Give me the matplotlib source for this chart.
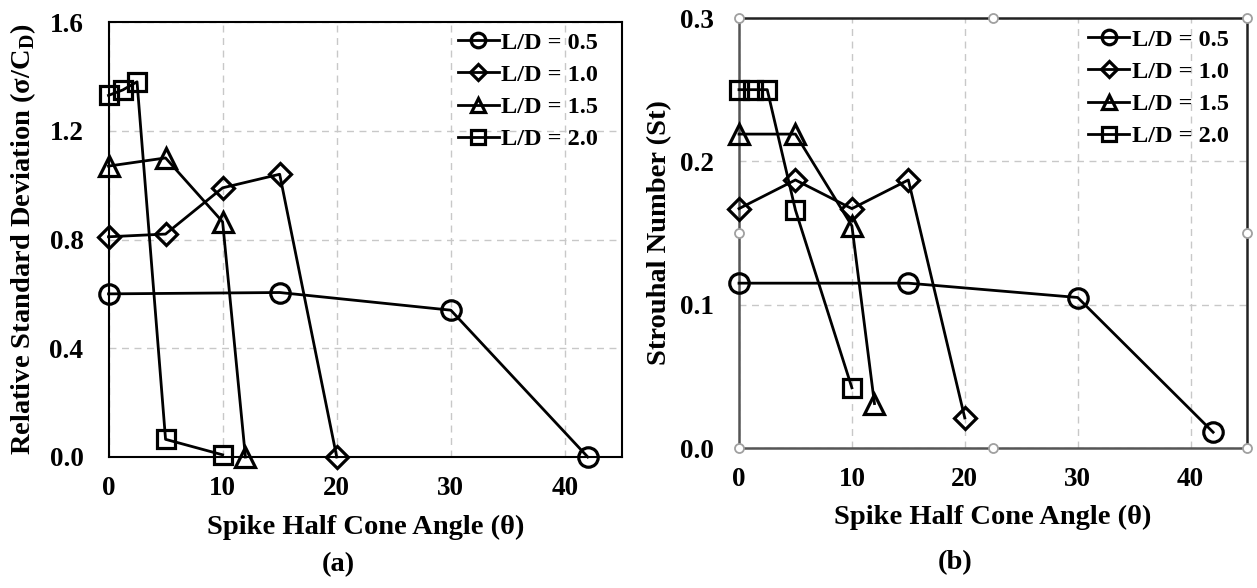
import numpy as np
import matplotlib
matplotlib.use("Agg")
import matplotlib.pyplot as plt

plt.rcParams["font.family"] = ["Liberation Serif", "DejaVu Serif"]
plt.rcParams["font.weight"] = "bold"
plt.rcParams["mathtext.fontset"] = "custom"
plt.rcParams["mathtext.bf"] = "Liberation Serif:bold"
plt.rcParams["mathtext.rm"] = "Liberation Serif:bold"

# series labels and markers
labels = ["L/D = 0.5", "L/D = 1.0", "L/D = 1.5", "L/D = 2.0"]
markers = ["o", "D", "^", "s"]

# (a) relative standard deviation
x_a = [
    [0, 15, 30, 42],
    [0, 5, 10, 15, 20],
    [0, 5, 10, 12],
    [0, 1.25, 2.5, 5, 10],
]
y_a = [
    [0.60, 0.605, 0.54, 0.0],
    [0.81, 0.82, 0.99, 1.04, 0.0],
    [1.07, 1.10, 0.865, 0.0],
    [1.33, 1.35, 1.38, 0.065, 0.008],
]

# (b) Strouhal number
x_b = [
    [0, 15, 30, 42],
    [0, 5, 10, 15, 20],
    [0, 5, 10, 12],
    [0, 1.25, 2.5, 5, 10],
]
y_b = [
    [0.115, 0.115, 0.105, 0.011],
    [0.167, 0.187, 0.167, 0.187, 0.021],
    [0.219, 0.219, 0.155, 0.031],
    [0.25, 0.25, 0.25, 0.166, 0.042],
]

W, H = 1257, 588
fig = plt.figure(figsize=(W / 100, H / 100), dpi=100)


def px_axes(left, top, right, bottom):
    return fig.add_axes([left / W, (H - bottom) / H, (right - left) / W, (bottom - top) / H])


ax_a = px_axes(108.5, 22, 622, 457)
ax_b = px_axes(739, 18, 1247, 448)

msizes = [14, 11, 14, 13]

for ax, xs, ys in [(ax_a, x_a, y_a), (ax_b, x_b, y_b)]:
    for i in range(4):
        ax.plot(xs[i], ys[i], color="black", lw=2.0, marker=markers[i],
                ms=msizes[i], mew=2.3, fillstyle="none", label=labels[i],
                clip_on=False, zorder=3)
    ax.set_xlim(0, 45)
    ax.set_xticks([0, 10, 20, 30, 40])
    ax.grid(True, ls=(0, (5, 4)), color="#c8c8c8", lw=1.0)
    ax.tick_params(length=0, labelsize=19.5)
    ax.tick_params(axis="x", pad=14)
    ax.tick_params(axis="y", pad=18)
    for lab in ax.get_xticklabels() + ax.get_yticklabels():
        lab.set_fontweight("bold")

ax_a.set_xlabel("Spike Half Cone Angle (θ)", fontsize=20.5, fontweight="bold", labelpad=10)
ax_b.set_xlabel("Spike Half Cone Angle (θ)", fontsize=20.5, fontweight="bold", labelpad=9)

ax_a.set_ylim(0, 1.6)
ax_a.set_yticks(np.arange(0, 1.61, 0.4))
ax_a.yaxis.set_major_formatter(matplotlib.ticker.FormatStrFormatter("%.1f"))
ax_a.set_ylabel(r"Relative Standard Deviation (σ/C$_\mathbf{D}$)", fontsize=20.5,
                fontweight="bold", labelpad=8)
for s in ax_a.spines.values():
    s.set_color("black")
    s.set_linewidth(1.5)

ax_b.set_ylim(0, 0.3)
ax_b.set_yticks([0, 0.1, 0.2, 0.3])
ax_b.yaxis.set_major_formatter(matplotlib.ticker.FormatStrFormatter("%.1f"))
ax_b.set_ylabel("Strouhal Number (St)", fontsize=20.5, fontweight="bold", labelpad=6)
for name, s in ax_b.spines.items():
    s.set_linewidth(1.8)
    s.set_color("#555555" if name in ("left", "bottom") else "#222222")

# selection handles around panel (b)
hx = [0, 0.5, 1, 1, 1, 0.5, 0, 0]
hy = [1, 1, 1, 0.5, 0, 0, 0, 0.5]
ax_b.plot(hx, hy, ls="none", marker="o", ms=6.5, mfc="white", mec="#a0a0a0",
          mew=1.3, transform=ax_b.transAxes, clip_on=False, zorder=5)

leg_kw = dict(frameon=False, handlelength=1.7, handletextpad=0.1,
              labelspacing=0.42, borderpad=0, borderaxespad=0, markerscale=0.75,
              loc="upper left", prop={"weight": "bold", "size": 17.5})
ax_a.legend(bbox_to_anchor=(0.68, 0.978), **leg_kw)
ax_b.legend(bbox_to_anchor=(0.687, 0.975), **leg_kw)

fig.text(338 / W, 1 - 565 / H, "(a)", ha="center", va="center", fontsize=20.5, fontweight="bold")
fig.text(955 / W, 1 - 563 / H, "(b)", ha="center", va="center", fontsize=20.5, fontweight="bold")

fig.savefig("out.png", dpi=100)
